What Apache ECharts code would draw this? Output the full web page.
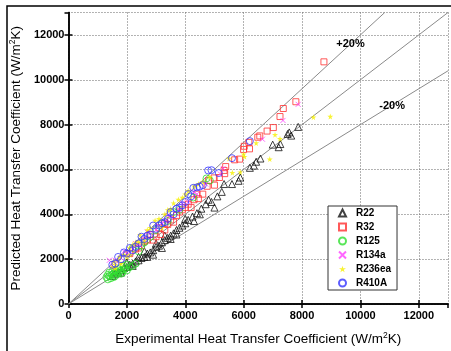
<!DOCTYPE html>
<html><head><meta charset="utf-8">
<script src="https://cdn.jsdelivr.net/npm/echarts@6/dist/echarts.min.js"></script>
<style>html,body{margin:0;padding:0;background:#fff}#c{width:451px;height:351px}</style>
</head><body><div id="c"></div>
<script>
const xTicks = [0,2000,4000,6000,8000,10000,12000];
const yTicks = [0,2000,4000,6000,8000,10000,12000];
const seriesNames = ['R22','R32','R125','R134a','R236ea','R410A'];
const refLines = [['+20%',1.2],['',1.0],['-20%',0.8]];

const r22 = [[1500,1250],[1600,1350],[1700,1400],[1800,1500],[1900,1600],[2000,1650],[2100,1750],[2200,1800],[2300,1900],[2400,1950],[2500,2050],[2600,2100],[2700,2250],[2800,2300],[2900,2400],[3000,2550],[3100,2600],[3200,2750],[3300,2850],[3400,2950],[3500,3050],[3600,3150],[3700,3300],[3800,3400],[3900,3500],[4000,3600],[4100,3750],[4250,3900],[4400,4050],[4550,4250],[4700,4450],[4800,4650],[4900,4550],[5100,4800],[5250,5000],[5330,5350],[5600,5350],[5827,5494],[5884,5641],[6213,6073],[6350,6172],[6429,6345],[6575,6487],[6995,7108],[7200,6992],[7256,7134],[7506,7583],[7630,7510],[7562,7652],[7868,7898],[3300,3050],[2600,2350],[2000,1850],[2900,2200],[3500,2900],[1600,1450],[1800,1400],[2200,1700],[2400,2100],[2700,2100],[3000,2700],[3200,2500],[3700,3100],[4000,3800],[4300,3700],[4500,4000],[5000,4300]];
const r32 = [[8750,10800],[7789,9020],[7358,8718],[7245,8360],[7017,7868],[6803,7712],[6553,7497],[6485,7437],[6179,7208],[6201,6919],[6020,7035],[5998,6893],[5862,6461],[5692,6431],[5385,6129],[5329,5956],[5351,5813],[4990,5624],[5170,5641],[4750,5250],[4600,4900],[4450,4700],[4300,4650],[4100,4450],[3900,4200],[3700,3950],[3500,3750],[3400,3550],[3300,3300],[3150,3100],[3000,3000],[2900,2850],[2700,2850],[2500,2600],[2300,2450],[2100,2250],[3600,3650],[4200,4300],[2400,2500],[2600,2800],[2800,3100],[3100,3400],[3300,3600],[3800,4100],[4000,4300],[4400,4900],[4800,5500],[5000,5300]];
const r125 = [[1300,1200],[1350,1300],[1400,1250],[1450,1150],[1500,1300],[1550,1350],[1600,1250],[1650,1400],[1700,1350],[1750,1450],[1800,1500],[1850,1400],[1900,1550],[1950,1600],[2000,1500],[1400,1400],[1600,1500],[2100,1650],[2200,1700],[2400,2350],[2600,2750],[3000,3300],[3400,3700],[3600,4100],[4275,4750],[4841,5511],[4728,5600],[3800,4200],[2800,3000],[1500,1450],[1700,1550],[1900,1700],[2200,2500],[2500,2600],[3200,3600],[1350,1100],[1550,1200],[1800,1350],[2000,1750],[2300,1800]];
const r134a = [[1400,1950],[1600,1950],[1800,2050],[2000,2250],[2200,2450],[2400,2650],[2600,2900],[2800,3150],[3000,3300],[3200,3600],[3500,3900],[3800,4200],[4100,4550],[4400,4900],[4700,5350],[5200,5800],[5300,6050],[6643,7350],[7347,8187],[7868,8904],[3300,3700],[2100,2300],[1700,1900],[1500,1700],[1900,2350],[2300,2700],[2700,3200],[3100,3500],[3400,3950],[3900,4500],[4300,5000]];
const r236ea = [[1500,1650],[1600,1750],[1700,1950],[1900,2200],[2100,2500],[2300,2750],[2449,3077],[2700,3300],[2966,3725],[3100,3800],[3300,4000],[3500,4250],[3765,4661],[3900,4750],[4100,5050],[4300,5250],[4600,5450],[4841,5667],[5499,6487],[5612,5857],[5884,5883],[5998,6677],[6031,6573],[6429,7178],[6894,6461],[7075,7553],[7245,7367],[8390,8330],[8968,8360],[2000,2100],[2600,2800],[3200,3400],[1800,1800],[1550,1900],[1750,2100],[2200,2650],[2400,2800],[2800,3400],[3400,4200],[3600,4500],[4000,4900],[1600,1600],[2100,2200],[4450,5350]];
const r410a = [[1600,1800],[1800,2000],[2000,2250],[2200,2400],[2400,2700],[2600,2900],[2800,3100],[3000,3350],[3200,3600],[3400,3800],[3600,4000],[3800,4300],[4000,4550],[4200,4800],[4275,5180],[4490,5235],[4785,5956],[4898,5969],[5147,5840],[5601,6504],[6213,7264],[2300,2550],[2700,3050],[3300,3650],[3900,4400],[4600,5300],[1700,2100],[1900,2300],[2500,3000],[2900,3500],[3100,3500],[3500,4100],[3700,4250],[4100,4900],[4400,5200],[1500,1750],[2100,2500]];

const chart = echarts.init(document.getElementById('c'), null, {renderer:'canvas'});
const F = "'Liberation Sans', Arial, sans-serif";
const STAR = 'path://M50,0 L61,35 L98,35 L68,57 L79,91 L50,70 L21,91 L32,57 L2,35 L39,35 Z';
const CROSS = 'path://M0,0 L10,10 M10,0 L0,10';
const XMAX = 13000, YMAX = 13000;

function sc(name, data, symbol, size, color, filled){
  return {name, type:'scatter', data, symbol, symbolSize:size, z:3,
    itemStyle: filled ? {color:color, borderWidth:0} : {color:'rgba(0,0,0,0)', borderColor:color, borderWidth:1},
    emphasis:{disabled:true}};
}
const lineSeries = refLines.map(([n,k]) => ({
  type:'line', silent:true, symbol:'none', z:2,
  data: [[0,0], k>=1 ? [YMAX/k, YMAX] : [XMAX, XMAX*k]],
  lineStyle:{color:'#8a8a8a', width:1}
}));

const fmt = v => (xTicks.indexOf(v) >= 0 ? String(v) : '');
const axisCommon = {
  min:0, interval:2000,
  axisLine:{show:true, lineStyle:{color:'#000', width:1.5}},
  axisTick:{show:true, inside:true, length:4, lineStyle:{color:'#000', width:1.5}},
  splitLine:{show:false}
};

chart.setOption({
  animation:false,
  grid:{left:66, right:3, top:12.5, bottom:38},
  xAxis:[
    Object.assign({}, axisCommon, {type:'value', max:XMAX, position:'bottom',
      axisLabel:{color:'#000', fontFamily:F, fontWeight:'bold', fontSize:11, margin:6, formatter:fmt, showMaxLabel:false},
      splitLine:{show:true, lineStyle:{color:'#666', type:[1,2], width:1}},
      name:'{a|Experimental Heat Transfer Coefficient (W/m}{s|2}{a|K)}', nameLocation:'middle', nameGap:27,
      nameTextStyle:{rich:{a:{fontFamily:F, fontSize:13.5, color:'#000'}, s:{fontFamily:F, fontSize:8.5, color:'#000', padding:[0,0,7,0]}}}}),
    Object.assign({}, axisCommon, {type:'value', max:XMAX, position:'top', axisLabel:{show:false}})
  ],
  yAxis:[
    Object.assign({}, axisCommon, {type:'value', max:YMAX, position:'left',
      axisLabel:{color:'#000', fontFamily:F, fontWeight:'bold', fontSize:11, margin:4, formatter:fmt, showMaxLabel:false},
      splitLine:{show:true, lineStyle:{color:'#666', type:[1,2], width:1}},
      name:'{a|Predicted Heat Transfer Coefficient (W/m}{s|2}{a|K)}', nameLocation:'middle', nameGap:34,
      nameTextStyle:{rich:{a:{fontFamily:F, fontSize:13.5, color:'#000'}, s:{fontFamily:F, fontSize:8.5, color:'#000', padding:[0,0,7,0]}}}}),
    Object.assign({}, axisCommon, {type:'value', max:YMAX, position:'right', axisLabel:{show:false}})
  ],
  legend:{
    orient:'vertical', left:328, top:206, data:seriesNames,
    backgroundColor:'#fff', borderColor:'#333', borderWidth:1, borderRadius:0,
    padding:[2,6,2,10], itemGap:4, itemWidth:7, itemHeight:7,
    textStyle:{fontFamily:F, fontWeight:'bold', fontSize:10, color:'#000', padding:[0,0,0,5]},
    selectedMode:false, z:10
  },
  series:[
    ...lineSeries,
    sc('R22', r22, 'triangle', 7, '#111', false),
    sc('R32', r32, 'rect', 6, '#ff3030', false),
    sc('R125', r125, 'circle', 7, '#2fe02f', false),
    sc('R134a', r134a, CROSS, 5, '#ff40ff', false),
    sc('R236ea', r236ea, STAR, 6, '#f6f000', true),
    sc('R410A', r410a, 'circle', 7, '#3535ff', false)
  ]
});

const p1 = chart.convertToPixel({xAxisIndex:0, yAxisIndex:0}, [9660, 11610]);
const p2 = chart.convertToPixel({xAxisIndex:0, yAxisIndex:0}, [11088, 8848]);
chart.setOption({graphic:[
  {type:'rect', shape:{x:7, y:6, width:460, height:360}, style:{fill:'none', stroke:'#000', lineWidth:1.5}, silent:true},
  {type:'text', x:p1[0], y:p1[1], style:{text:'+20%', font:"bold 11px "+F, fill:'#000', textAlign:'center', textVerticalAlign:'middle'}, z:20},
  {type:'text', x:p2[0], y:p2[1], style:{text:'-20%', font:"bold 11px "+F, fill:'#000', textAlign:'center', textVerticalAlign:'middle'}, z:20}
]});
</script></body></html>
